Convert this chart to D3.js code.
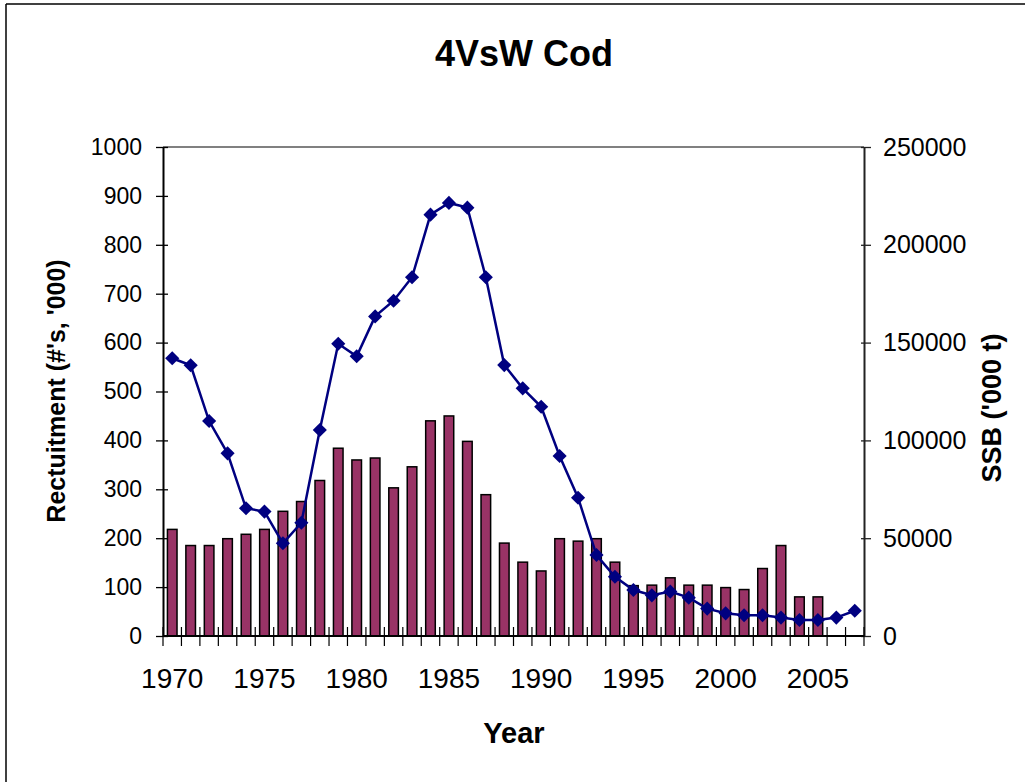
<!DOCTYPE html>
<html>
<head>
<meta charset="utf-8">
<script src="https://cdn.jsdelivr.net/npm/d3@7"></script>
<style>
  body { margin: 0; background: #fff; }
  svg { display: block; font-family: "Liberation Sans", Arial, sans-serif; }
</style>
</head>
<body>
<svg id="chart" width="1025" height="782"></svg>
<script>
// years (categories)
var years = [1970,1971,1972,1973,1974,1975,1976,1977,1978,1979,
             1980,1981,1982,1983,1984,1985,1986,1987,1988,1989,
             1990,1991,1992,1993,1994,1995,1996,1997,1998,1999,
             2000,2001,2002,2003,2004,2005,2006,2007];
// recruitment, #'s '000 (bars, left axis)
var recruitment = [218,185,185,199,208,218,255,275,318,384,
                   360,364,303,346,440,450,398,289,190,151,
                   133,199,194,199,151,103,104,119,104,104,
                   99,95,138,185,80,80,null,null];
// SSB, '000 t (line, right axis)
var ssb = [142000,138400,109900,93400,65300,63600,47400,57900,105300,149400,
           143000,163400,171400,183400,215400,221400,219000,183400,138500,126600,
           117200,92000,70700,41400,30300,23500,20800,22700,19600,14000,
           11600,10600,10600,9400,8200,8200,9400,12900];
var leftTicks = [0,100,200,300,400,500,600,700,800,900,1000];
var rightTicks = [0,50000,100000,150000,200000,250000];
var labelYears = [1970,1975,1980,1985,1990,1995,2000,2005];

var svg = d3.select("#chart");

// 外框
svg.append("line").attr("x1",6).attr("y1",4).attr("x2",1025).attr("y2",4)
    .attr("stroke","#000").attr("stroke-width",1.5);
svg.append("line").attr("x1",6).attr("y1",4).attr("x2",6).attr("y2",782)
    .attr("stroke","#000").attr("stroke-width",1.5);

var pLeft = 163, pRight = 864, pTop = 147, pBottom = 636;

var x = d3.scaleBand().domain(years).range([pLeft,pRight]).padding(0);
var yL = d3.scaleLinear().domain([0,1000]).range([pBottom,pTop]);
var yR = d3.scaleLinear().domain([0,250000]).range([pBottom,pTop]);

// plot area top border
svg.append("line").attr("x1",pLeft).attr("x2",pRight).attr("y1",pTop).attr("y2",pTop)
    .attr("stroke","#808080").attr("stroke-width",2);

// bars
var bw = x.bandwidth()*0.52;
svg.append("g").selectAll("rect")
    .data(years.map(function(y,i){ return {year:y, v:recruitment[i]}; }).filter(function(d){ return d.v!=null; }))
    .enter().append("rect")
    .attr("x",function(d){ return x(d.year)+x.bandwidth()/2-bw/2; })
    .attr("y",function(d){ return yL(d.v); })
    .attr("width",bw)
    .attr("height",function(d){ return pBottom-yL(d.v); })
    .attr("fill","#993366")
    .attr("stroke","#000")
    .attr("stroke-width",1.5);

// left axis
var gL = svg.append("g").attr("transform","translate("+pLeft+",0)")
    .call(d3.axisLeft(yL).tickValues(leftTicks).tickSizeInner(7).tickSizeOuter(0).tickPadding(14).tickFormat(d3.format("d")));
gL.select(".domain").attr("stroke","#000").attr("stroke-width",2);
gL.selectAll(".tick line").attr("x1",5).attr("x2",-7).attr("stroke","#000").attr("stroke-width",1.3);
gL.selectAll("text").attr("font-size",23).attr("fill","#000").attr("font-family","Liberation Sans, Arial");

// right axis
var gR = svg.append("g").attr("transform","translate("+pRight+",0)")
    .call(d3.axisRight(yR).tickValues(rightTicks).tickSizeInner(7).tickSizeOuter(0).tickPadding(12).tickFormat(d3.format("d")));
gR.select(".domain").attr("stroke","#222").attr("stroke-width",2);
gR.selectAll(".tick line").attr("x1",-3).attr("x2",7).attr("stroke","#222").attr("stroke-width",1.3);
gR.selectAll("text").attr("font-size",25).attr("fill","#000").attr("font-family","Liberation Sans, Arial");

// bottom axis: labels at centres, ticks between categories
var gB = svg.append("g").attr("transform","translate(0,"+pBottom+")")
    .call(d3.axisBottom(x).tickValues(labelYears).tickSize(0).tickPadding(32));
gB.select(".domain").remove();
gB.selectAll("text").attr("font-size",28).attr("fill","#000").attr("font-family","Liberation Sans, Arial");
var bounds = years.map(function(y){ return x(y); }).concat([pRight]);
svg.append("g").selectAll("line").data(bounds).enter().append("line")
    .attr("x1",function(d){ return d; }).attr("x2",function(d){ return d; })
    .attr("y1",pBottom-9).attr("y2",pBottom+10)
    .attr("stroke","#000").attr("stroke-width",1.2);
svg.append("line").attr("x1",pLeft).attr("x2",pRight).attr("y1",pBottom).attr("y2",pBottom)
    .attr("stroke","#000").attr("stroke-width",2);

// SSB line
var pts = years.map(function(y,i){ return {year:y, v:ssb[i]}; });
var line = d3.line()
    .x(function(d){ return x(d.year)+x.bandwidth()/2; })
    .y(function(d){ return yR(d.v); });
svg.append("path").datum(pts).attr("d",line)
    .attr("fill","none").attr("stroke","#000080").attr("stroke-width",2.5);
svg.append("g").selectAll("path").data(pts).enter().append("path")
    .attr("d",d3.symbol().type(d3.symbolSquare).size(100))
    .attr("transform",function(d){ return "translate("+(x(d.year)+x.bandwidth()/2)+","+yR(d.v)+") rotate(45)"; })
    .attr("fill","#000080");

// titles
svg.append("text").attr("x",524).attr("y",66).attr("text-anchor","middle")
    .attr("font-size",36).attr("font-weight","bold").text("4VsW Cod");
svg.append("text").attr("x",514).attr("y",743).attr("text-anchor","middle")
    .attr("font-size",29).attr("font-weight","bold").text("Year");
svg.append("text").attr("transform","translate(65,391) rotate(-90)").attr("text-anchor","middle")
    .attr("font-size",25).attr("font-weight","bold").text("Rectuitment (#'s, '000)");
svg.append("text").attr("transform","translate(1001,408) rotate(-90)").attr("text-anchor","middle")
    .attr("font-size",27).attr("font-weight","bold").text("SSB ('000 t)");
</script>
</body>
</html>
